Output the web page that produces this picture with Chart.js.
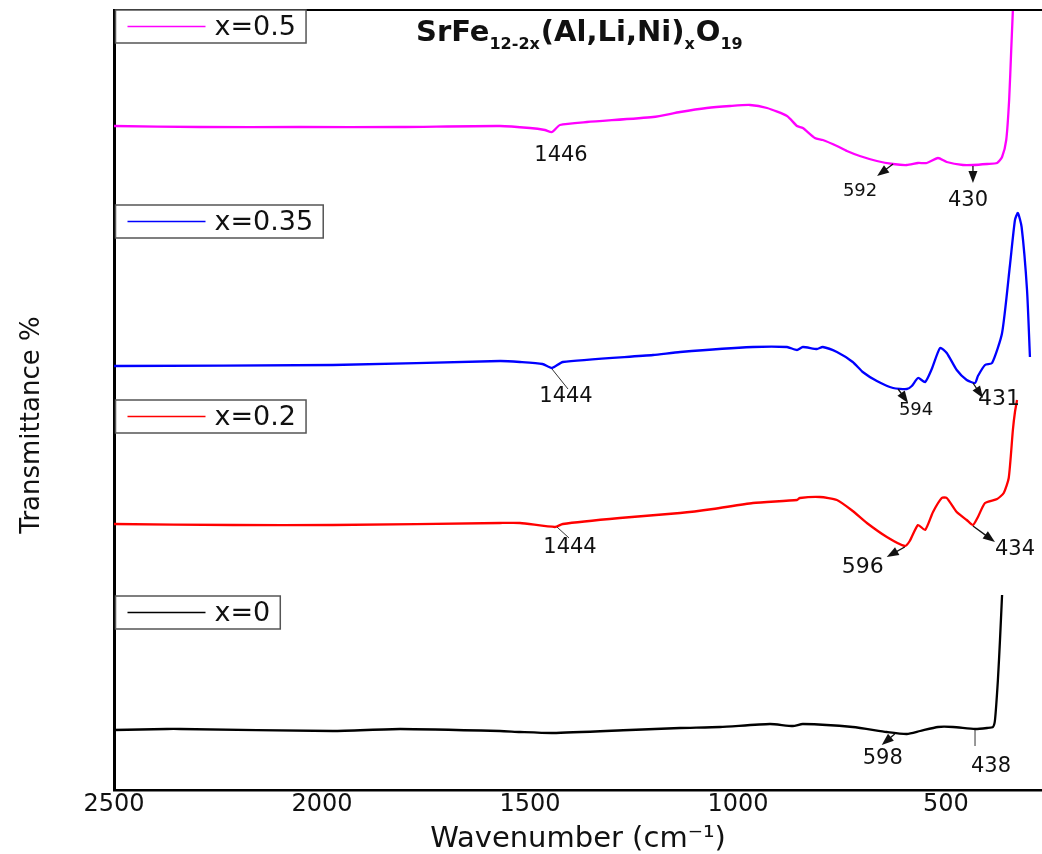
<!DOCTYPE html>
<html><head><meta charset="utf-8">
<script src="https://cdn.jsdelivr.net/npm/chart.js@4.4.0/dist/chart.umd.min.js"></script>
<style>html,body{margin:0;padding:0;background:#fff;}canvas{display:block;}</style>
</head><body>
<canvas id="c" width="1042" height="854"></canvas>
<script>
// ---- data (wavenumber in cm^-1, transmittance in arbitrary offset units) ----
const seriesLabels = ['x=0.5', 'x=0.35', 'x=0.2', 'x=0'];
const seriesColors = ['#ff00ff', '#0000ff', '#ff0000', '#000000'];

const wnX05 = [2500, 2293, 2053, 1812, 1572, 1500, 1464, 1447, 1428, 1363, 1204, 1139, 1075, 1019, 971, 930, 882, 858, 844, 815, 796, 762, 738, 707, 666, 627, 594, 567, 546, 519, 498, 459, 435, 401, 377, 365, 355, 348, 343, 338];
const tX05  = [664, 663, 663, 663, 664, 662, 660, 658, 665, 668, 673, 678, 682, 684, 685, 682, 674, 664, 662, 652, 650, 644, 639, 634, 629, 626, 625, 627, 627, 632, 628, 625, 625, 626, 627, 633, 650, 690, 740, 790];

const wnX035 = [2500, 1974, 1572, 1524, 1470, 1447, 1421, 1204, 1139, 964, 882, 858, 844, 810, 796, 762, 724, 700, 666, 627, 594, 582, 567, 550, 534, 514, 498, 474, 450, 430, 423, 406, 389, 365, 346, 334, 327, 318, 305, 298];
const tX035  = [424, 425, 429, 428, 426, 422, 428, 435, 438, 443, 443, 440, 443, 441, 443, 438, 428, 418, 409, 402, 401, 404, 412, 408, 421, 442, 437, 420, 410, 407, 414, 425, 427, 457, 525, 570, 577, 563, 500, 433];

const wnX02 = [2500, 2214, 1974, 1572, 1524, 1440, 1421, 1284, 1139, 1060, 964, 858, 851, 803, 762, 724, 690, 642, 599, 587, 567, 550, 531, 510, 498, 474, 450, 435, 423, 406, 377, 361, 349, 339, 334, 329];
const tX02  = [266, 265, 265, 267, 267, 263, 266, 272, 277, 281, 287, 290, 292, 293, 290, 279, 267, 253, 244, 249, 265, 260, 278, 292, 292, 278, 270, 265, 273, 287, 291, 297, 312, 360, 378, 390];

const wnX0 = [2500, 2373, 2341, 1974, 1812, 1572, 1524, 1445, 1260, 1139, 1043, 923, 868, 844, 724, 642, 594, 562, 519, 483, 430, 401, 387, 382, 375, 370, 365];
const tX0  = [60, 61, 61, 59, 61, 59, 58, 57, 60, 62, 63, 66, 64, 66, 63, 58, 56, 59, 63, 63, 61, 62, 63, 70, 110, 150, 195];

const xTicks = [2500, 2000, 1500, 1000, 500];

// peak annotations: label text and the point on the curve they refer to
const peakText     = ['1446', '592', '430', '1444', '594', '431', '1444', '596', '434', '598', '438'];
const peakAnchorWn = [1447, 627, 435, 1447, 615, 435, 1435, 599, 435, 623, 430];
const peakAnchorT  = [658, 626, 624, 421, 401, 407, 263, 243, 264, 56, 60];

// ---- styles ----
const FONT = "'DejaVu Sans', 'Liberation Sans', sans-serif";
const peakStyle = [
  {kind: 'none',   end: [0, 0],    text: [9, 24],   size: 21},
  {kind: 'arrow',  end: [-16, 12], text: [-33, 27], size: 18},
  {kind: 'arrow',  end: [0, 17],   text: [-5, 35],  size: 21},
  {kind: 'leader', end: [16, 20],  text: [14, 28],  size: 21},
  {kind: 'arrow',  end: [10, 14],  text: [18, 21],  size: 18},
  {kind: 'arrow',  end: [10, 15],  text: [26, 16],  size: 22},
  {kind: 'leader', end: [12, 11],  text: [13, 21],  size: 21},
  {kind: 'arrow',  end: [-18, 10], text: [-42, 20], size: 22},
  {kind: 'arrow',  end: [22, 16],  text: [42, 24],  size: 21},
  {kind: 'arrow',  end: [-13, 11], text: [-12, 25], size: 21},
  {kind: 'leader', end: [0, 16],   text: [16, 37],  size: 21}
];
const legendTopOffsets = [0, 195, 390, 586];

function pts(xs, ys) { return xs.map((x, i) => ({x: x, y: ys[i]})); }

const datasets = [
  [wnX05, tX05], [wnX035, tX035], [wnX02, tX02], [wnX0, tX0]
].map((s, i) => ({
  label: seriesLabels[i],
  data: pts(s[0], s[1]),
  borderColor: seriesColors[i],
  borderWidth: 2.3,
  pointRadius: 0,
  fill: false,
  tension: 0.2
}));

function drawArrow(ctx, x1, y1, x2, y2) {
  const a = Math.atan2(y2 - y1, x2 - x1), L = 12, W = 4.5;
  const c = Math.cos(a), s = Math.sin(a);
  ctx.beginPath();
  ctx.moveTo(x1, y1);
  ctx.lineTo(x2 - L * 0.8 * c, y2 - L * 0.8 * s);
  ctx.stroke();
  ctx.beginPath();
  ctx.moveTo(x2, y2);
  ctx.lineTo(x2 - L * c + W * s, y2 - L * s - W * c);
  ctx.lineTo(x2 - L * c - W * s, y2 - L * s + W * c);
  ctx.closePath();
  ctx.fill();
}

const decorPlugin = {
  id: 'decor',
  afterDraw(chart) {
    const ctx = chart.ctx, ca = chart.chartArea;
    const xs = chart.scales.x, ys = chart.scales.y;
    ctx.save();
    // top frame line
    ctx.strokeStyle = '#000'; ctx.lineWidth = 2;
    ctx.beginPath(); ctx.moveTo(ca.left, ca.top); ctx.lineTo(ca.right, ca.top); ctx.stroke();

    // peak annotations
    peakText.forEach((t, i) => {
      const st = peakStyle[i];
      const px = xs.getPixelForValue(peakAnchorWn[i]);
      const py = ys.getPixelForValue(peakAnchorT[i]);
      ctx.fillStyle = '#111'; ctx.strokeStyle = '#111';
      if (st.kind === 'arrow') {
        ctx.lineWidth = 1.3;
        drawArrow(ctx, px, py, px + st.end[0], py + st.end[1]);
      } else if (st.kind === 'leader') {
        ctx.lineWidth = 1; ctx.strokeStyle = '#333';
        ctx.beginPath(); ctx.moveTo(px, py); ctx.lineTo(px + st.end[0], py + st.end[1]); ctx.stroke();
      }
      ctx.font = st.size + 'px ' + FONT;
      ctx.textAlign = 'center'; ctx.textBaseline = 'middle';
      ctx.fillStyle = '#111';
      ctx.fillText(t, px + st.text[0], py + st.text[1]);
    });

    // legend boxes
    chart.data.datasets.forEach((ds, i) => {
      const top = ca.top + legendTopOffsets[i], h = 33;
      const left = ca.left + 1.5;
      ctx.font = '27px ' + FONT;
      const tw = ctx.measureText(ds.label).width;
      const textX = left + 99;
      const right = textX + tw + 10;
      ctx.fillStyle = '#fff';
      ctx.fillRect(left, top, right - left, h);
      ctx.strokeStyle = '#555'; ctx.lineWidth = 1.5;
      ctx.strokeRect(left, top, right - left, h);
      ctx.strokeStyle = ds.borderColor; ctx.lineWidth = 1.5;
      ctx.beginPath(); ctx.moveTo(left + 12, top + h / 2); ctx.lineTo(left + 90, top + h / 2); ctx.stroke();
      ctx.fillStyle = '#111'; ctx.textAlign = 'left'; ctx.textBaseline = 'middle';
      ctx.fillText(ds.label, textX, top + h / 2 + 1);
    });

    // chemical formula title with subscripts
    const parts = [['SrFe', 0], ['12-2x', 1], ['(Al,Li,Ni)', 0], ['x', 1], ['O', 0], ['19', 1]];
    let x = 416; const base = 41;
    ctx.fillStyle = '#111'; ctx.textAlign = 'left'; ctx.textBaseline = 'alphabetic';
    parts.forEach(p => {
      ctx.font = 'bold ' + (p[1] ? 16 : 29) + 'px ' + FONT;
      ctx.fillText(p[0], x, base + (p[1] ? 8 : 0));
      x += ctx.measureText(p[0]).width + (p[1] ? 1 : 0);
    });

    // y axis title
    ctx.save();
    ctx.translate(39, 425);
    ctx.rotate(-Math.PI / 2);
    ctx.font = '26px ' + FONT;
    ctx.textAlign = 'center'; ctx.textBaseline = 'alphabetic';
    ctx.fillStyle = '#111';
    ctx.fillText('Transmittance %', 0, 0);
    ctx.restore();

    ctx.restore();
  }
};

new Chart(document.getElementById('c'), {
  type: 'line',
  data: {datasets: datasets},
  options: {
    responsive: false,
    animation: false,
    layout: {padding: {top: 10, right: 0, bottom: 0, left: 0}},
    plugins: {legend: {display: false}, tooltip: {enabled: false}},
    scales: {
      x: {
        type: 'linear', reverse: true, min: 269, max: 2500,
        grid: {display: false, drawTicks: false},
        border: {display: true, color: '#000', width: 2.5},
        ticks: {
          font: {family: FONT, size: 24}, color: '#111', padding: 0,
          maxRotation: 0, autoSkip: false,
          callback: v => String(v)
        },
        afterBuildTicks: s => { s.ticks = xTicks.map(v => ({value: v})); },
        afterFit: s => { s.height = 64; },
        title: {display: true, text: 'Wavenumber (cm⁻¹)', color: '#111',
                font: {family: FONT, size: 29, lineHeight: 1}, padding: {top: 0, bottom: 0}}
      },
      y: {
        type: 'linear', min: 0, max: 780,
        grid: {display: false, drawTicks: false},
        border: {display: true, color: '#000', width: 3},
        ticks: {display: false},
        afterFit: s => { s.width = 114; }
      }
    }
  },
  plugins: [decorPlugin]
});
</script>
</body></html>
